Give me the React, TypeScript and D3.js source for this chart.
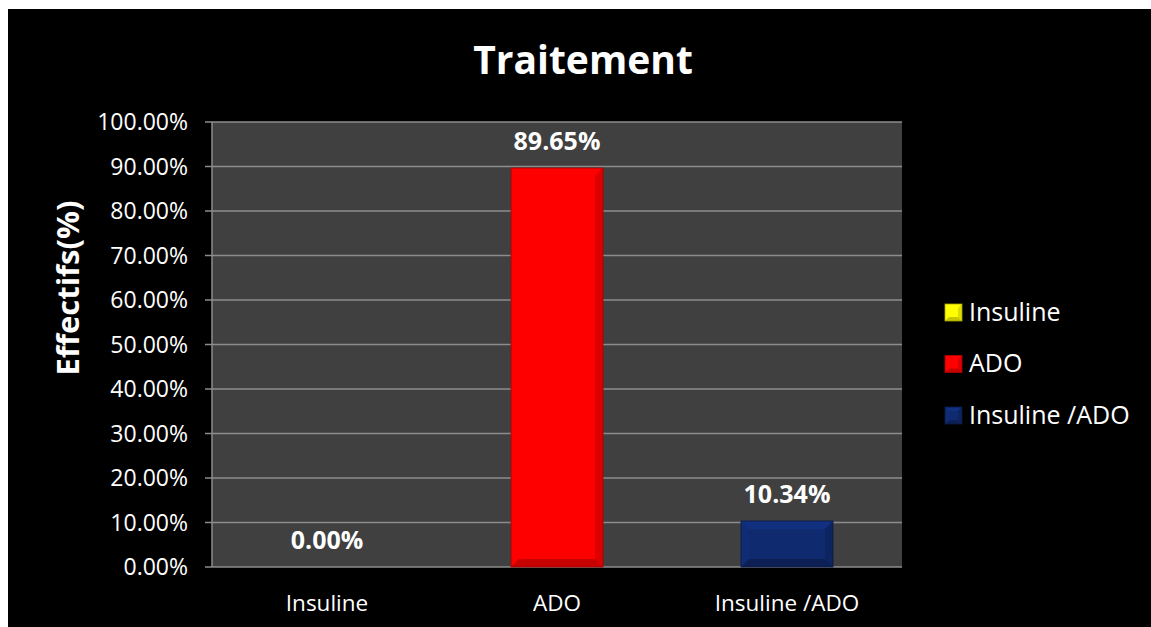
import React from "react";
import * as d3 from "d3";

const categories = ["Insuline", "ADO", "Insuline /ADO"];
const values = [0, 89.65, 10.34];
const colors = ["#ffff00", "#ff0000", "#0f2a6e"];
const yTicks = [0, 10, 20, 30, 40, 50, 60, 70, 80, 90, 100];
const title = "Traitement";
const yTitle = "Effectifs(%)";

const W = 1151, H = 627;
const plot = { left: 212, right: 902, top: 122, bottom: 567 };
const FONT = "'Open Sans', 'Noto Sans', sans-serif";

function shade(c: string, k: number) {
  const col = d3.color(c)!;
  return k > 0 ? col.brighter(k).formatHex() : col.darker(-k).formatHex();
}

function Bevel({ x, y, w, h, color, b }: { x: number; y: number; w: number; h: number; color: string; b: number }) {
  if (h <= 0 || w <= 0) return null;
  const bb = Math.min(b, h / 2, w / 2);
  return (
    <g>
      <rect x={x} y={y} width={w} height={h} fill={color} />
      <polygon points={`${x},${y} ${x + w},${y} ${x + w - bb},${y + bb} ${x + bb},${y + bb}`} fill={shade(color, 0.5)} opacity={0.8} />
      <polygon points={`${x},${y} ${x + bb},${y + bb} ${x + bb},${y + h - bb} ${x},${y + h}`} fill={shade(color, 0.2)} opacity={0.7} />
      <polygon points={`${x + w},${y} ${x + w},${y + h} ${x + w - bb},${y + h - bb} ${x + w - bb},${y + bb}`} fill={shade(color, -0.6)} opacity={0.7} />
      <polygon points={`${x},${y + h} ${x + w},${y + h} ${x + w - bb},${y + h - bb} ${x + bb},${y + h - bb}`} fill={shade(color, -0.9)} opacity={0.8} />
      <rect x={x} y={y} width={w} height={h} fill="none" stroke={shade(color, -1.2)} strokeWidth={0.8} />
    </g>
  );
}

export default function App() {
  const x = d3.scaleBand<string>().domain(categories).range([plot.left, plot.right]).paddingInner(0.6).paddingOuter(0.3);
  const y = d3.scaleLinear().domain([0, 100]).range([plot.bottom, plot.top]);
  const band = d3.scaleBand<string>().domain(categories).range([plot.left, plot.right]);

  return (
    <svg width={W} height={H} style={{ position: "absolute", left: 0, top: 0, display: "block" }}>
      <rect x={0} y={0} width={W} height={H} fill="#ffffff" />
      <rect x={8} y={9} width={W - 8} height={H - 9} fill="#000000" />
      <text x={583} y={74} textAnchor="middle" fill="#ffffff" fontFamily={FONT} fontWeight="bold" fontSize={39}>{title}</text>
      <rect x={plot.left} y={plot.top} width={plot.right - plot.left} height={plot.bottom - plot.top} fill="#404040" />
      {yTicks.map((t) => (
        <g key={t}>
          <line x1={plot.left} x2={plot.right} y1={y(t)} y2={y(t)} stroke="#8c8c8c" strokeWidth={1.5} />
          <line x1={205} x2={plot.left} y1={y(t)} y2={y(t)} stroke="#8c8c8c" strokeWidth={1.5} />
          <text x={188} y={y(t)} dy="0.35em" textAnchor="end" fill="#ffffff" fontFamily={FONT} fontSize={23}>{t.toFixed(2)}%</text>
        </g>
      ))}
      <line x1={plot.left} x2={plot.left} y1={plot.top} y2={plot.bottom} stroke="#8c8c8c" strokeWidth={1.5} />
      {categories.map((c, i) => {
        const bx = x(c)!;
        const bw = x.bandwidth();
        const by = y(values[i]);
        const bh = plot.bottom - by;
        return (
          <g key={c}>
            <Bevel x={bx} y={by} w={bw} h={bh} color={colors[i]} b={8} />
            <text x={bx + bw / 2} y={by - 18} textAnchor="middle" fill="#ffffff" fontFamily={FONT} fontWeight="bold" fontSize={25}>{values[i].toFixed(2)}%</text>
            <text x={band(c)! + band.bandwidth() / 2} y={611} textAnchor="middle" fill="#ffffff" fontFamily={FONT} fontSize={22.5}>{c}</text>
          </g>
        );
      })}
      <text transform={`translate(79, 288) rotate(-90)`} textAnchor="middle" fill="#ffffff" fontFamily={FONT} fontWeight="bold" fontSize={31}>{yTitle}</text>
      {categories.map((c, i) => {
        const ly = 312 + i * 51.5;
        return (
          <g key={"l" + c}>
            <Bevel x={945} y={ly - 8} w={17} h={17} color={colors[i]} b={4} />
            <text x={969} y={ly} dy="0.35em" fill="#ffffff" fontFamily={FONT} fontSize={25}>{c}</text>
          </g>
        );
      })}
    </svg>
  );
}
